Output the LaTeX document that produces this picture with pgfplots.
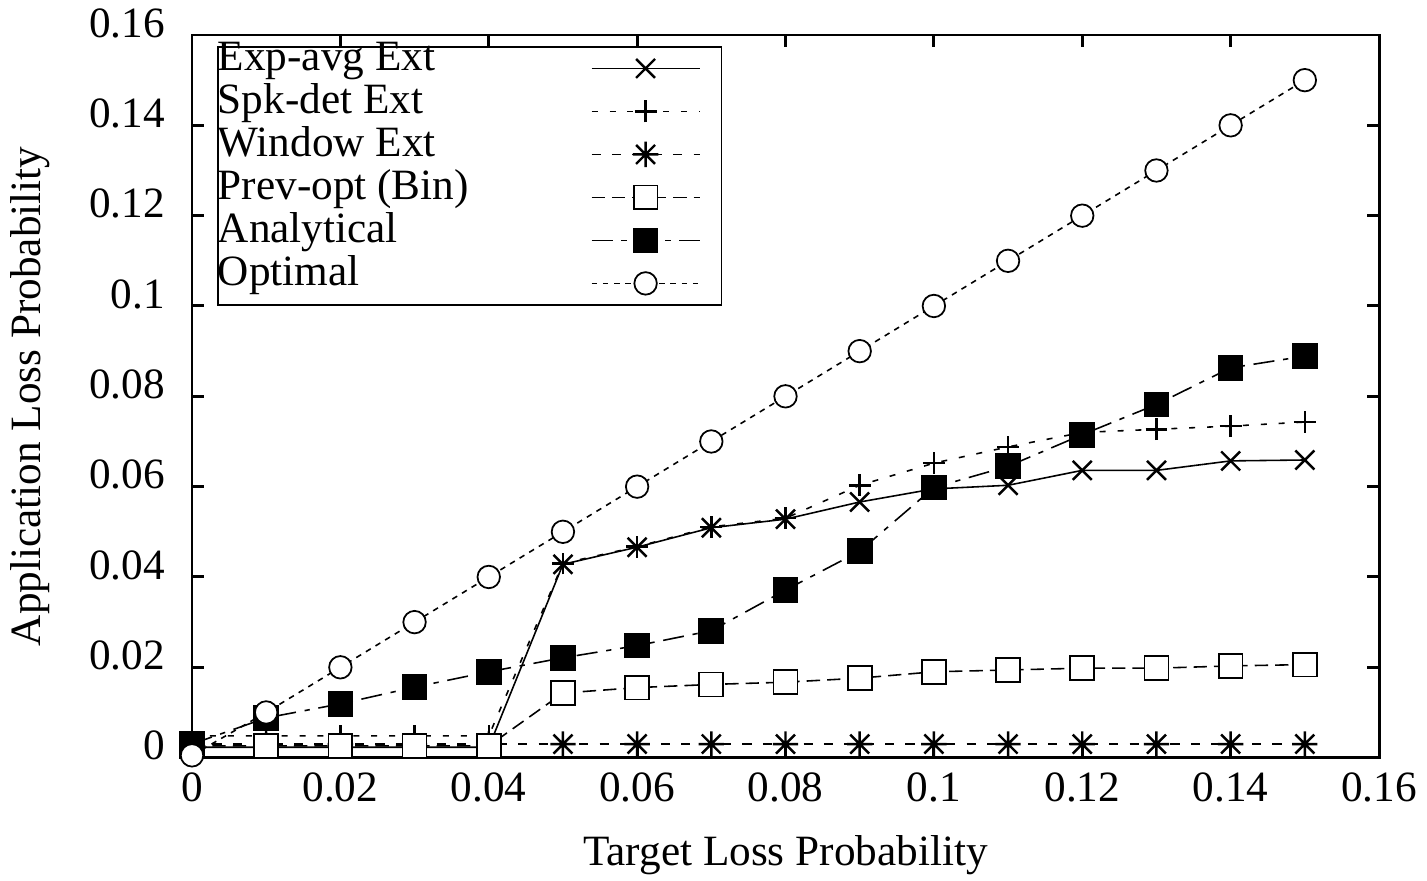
\documentclass[border=0pt]{standalone}
\usepackage{fontspec}
\setmainfont{Liberation Serif}
\usepackage{pgfplots}
\pgfplotsset{compat=1.18}
\usetikzlibrary{calc,plotmarks}

% gnuplot-like point types
\pgfdeclareplotmark{gpx}{%
  \pgfpathmoveto{\pgfqpoint{-\pgfplotmarksize}{-\pgfplotmarksize}}%
  \pgfpathlineto{\pgfqpoint{\pgfplotmarksize}{\pgfplotmarksize}}%
  \pgfpathmoveto{\pgfqpoint{-\pgfplotmarksize}{\pgfplotmarksize}}%
  \pgfpathlineto{\pgfqpoint{\pgfplotmarksize}{-\pgfplotmarksize}}%
  \pgfusepathqstroke}
\pgfdeclareplotmark{gpplus}{%
  \pgfpathmoveto{\pgfqpoint{-\pgfplotmarksize}{0pt}}%
  \pgfpathlineto{\pgfqpoint{\pgfplotmarksize}{0pt}}%
  \pgfpathmoveto{\pgfqpoint{0pt}{-\pgfplotmarksize}}%
  \pgfpathlineto{\pgfqpoint{0pt}{\pgfplotmarksize}}%
  \pgfusepathqstroke}
\pgfdeclareplotmark{gpstar}{%
  \pgfpathmoveto{\pgfqpoint{-\pgfplotmarksize}{0pt}}%
  \pgfpathlineto{\pgfqpoint{\pgfplotmarksize}{0pt}}%
  \pgfpathmoveto{\pgfqpoint{0pt}{-\pgfplotmarksize}}%
  \pgfpathlineto{\pgfqpoint{0pt}{\pgfplotmarksize}}%
  \pgfpathmoveto{\pgfqpoint{-0.75\pgfplotmarksize}{-0.75\pgfplotmarksize}}%
  \pgfpathlineto{\pgfqpoint{0.75\pgfplotmarksize}{0.75\pgfplotmarksize}}%
  \pgfpathmoveto{\pgfqpoint{-0.75\pgfplotmarksize}{0.75\pgfplotmarksize}}%
  \pgfpathlineto{\pgfqpoint{0.75\pgfplotmarksize}{-0.75\pgfplotmarksize}}%
  \pgfusepathqstroke}

\newcommand{\lt}[1]{\raisebox{0.06cm}{#1}}

\pgfplotstableread{
x     expavg  spkdet  window  prevopt analyt  optimal
0.00  0.0023  0.0048  0.0030  0.0026  0.0030  0.0005
0.01  0.0023  0.0048  0.0030  0.0026  0.0088  0.0100
0.02  0.0023  0.0048  0.0030  0.0026  0.0119  0.0200
0.03  0.0023  0.0048  0.0030  0.0026  0.0156  0.0300
0.04  0.0023  0.0048  0.0030  0.0026  0.0190  0.0400
0.05  0.0428  0.0430  0.0030  0.0143  0.0221  0.0500
0.06  0.0466  0.0467  0.0030  0.0155  0.0248  0.0600
0.07  0.0509  0.0511  0.0030  0.0162  0.0281  0.0700
0.08  0.0528  0.0530  0.0030  0.0167  0.0371  0.0800
0.09  0.0566  0.0603  0.0030  0.0176  0.0457  0.0900
0.10  0.0595  0.0652  0.0030  0.0190  0.0598  0.1000
0.11  0.0603  0.0688  0.0030  0.0194  0.0645  0.1100
0.12  0.0636  0.0720  0.0030  0.0198  0.0715  0.1200
0.13  0.0636  0.0727  0.0030  0.0198  0.0782  0.1300
0.14  0.0657  0.0734  0.0030  0.0203  0.0863  0.1400
0.15  0.0659  0.0743  0.0030  0.0206  0.0889  0.1500
}\losstable

\begin{document}
\begin{tikzpicture}
\fontsize{12.3pt}{14pt}\selectfont
\begin{axis}[
  scale only axis,
  width=11.87cm, height=7.226cm,
  xmin=0, xmax=0.16, ymin=0, ymax=0.16,
  xtick={0,0.02,...,0.161}, ytick={0,0.02,...,0.161},
  scaled ticks=false,
  /pgf/number format/assume math mode=true,
  xticklabel style={/pgf/number format/fixed, /pgf/number format/precision=2},
  yticklabel style={/pgf/number format/fixed, /pgf/number format/precision=2,
                    xshift=-0.12cm, yshift=0.12cm},
  tick label style={font=\fontsize{12.3pt}{14pt}\selectfont},
  label style={font=\fontsize{12.3pt}{14pt}\selectfont},
  tick align=inside,
  major tick length=0.12cm,
  tick style={black, line width=0.85pt},
  axis line style={black, line width=0.85pt},
  xlabel={Target Loss Probability},
  ylabel={Application Loss Probability},
  xlabel style={at={(axis description cs:0.5,-0.1348)}, anchor=center},
  ylabel style={at={(axis description cs:-0.1365,0.5)}, anchor=center},
  clip=false,
  legend plot pos=right,
  legend cell align=left,
  legend image code/.code={%
    \draw[mark repeat=2,mark phase=2,#1] plot coordinates {(0cm,0cm) (0.54cm,0cm) (1.08cm,0cm)};
    \path (1.29cm,0cm);},
  legend style={
    at={(axis description cs:0,1)}, anchor=north west,
    xshift=0.25cm, yshift=-0.11cm,
    draw=black, line width=0.5pt,
    inner xsep=0pt, inner ysep=0pt, row sep=0pt,
    font=\fontsize{12.3pt}{14pt}\selectfont,
    nodes={inner sep=0pt, text height=0.30cm, text depth=0.13cm},
    /tikz/every odd column/.append style={column sep=1.22cm},
  },
]
\addplot[black, line width=0.45pt, mark=gpx, mark size=2.7pt,
  mark options={solid, line width=0.7pt}]
  table[x=x, y=expavg] {\losstable};
\addlegendentry{\lt{Exp-avg Ext}}
\addplot[black, line width=0.45pt, dash pattern=on 1.7pt off 3.4pt,
  mark=gpplus, mark size=3.1pt, mark options={solid, line width=0.7pt}]
  table[x=x, y=spkdet] {\losstable};
\addlegendentry{\lt{Spk-det Ext}}
\addplot[black, line width=0.45pt, dash pattern=on 2.6pt off 3.2pt,
  mark=gpstar, mark size=3.6pt, mark options={solid, line width=0.7pt}]
  table[x=x, y=window] {\losstable};
\addlegendentry{\lt{Window Ext}}
\addplot[black, line width=0.45pt, dash pattern=on 3.8pt off 2pt,
  mark=square*, mark size=3.4pt, mark options={solid, fill=white, line width=0.5pt}]
  table[x=x, y=prevopt] {\losstable};
\addlegendentry{\lt{Prev-opt (Bin)}}
\addplot[black, line width=0.45pt, dash pattern=on 6pt off 2.5pt on 1.5pt off 2.5pt,
  mark=square*, mark size=3.4pt, mark options={solid, fill=black, line width=0.5pt}]
  table[x=x, y=analyt] {\losstable};
\addlegendentry{\lt{Analytical}}
\addplot[black, line width=0.45pt, dash pattern=on 1.6pt off 1.6pt,
  mark=*, mark size=3.2pt, mark options={solid, fill=white, line width=0.5pt}]
  table[x=x, y=optimal] {\losstable};
\addlegendentry{\lt{Optimal}}
\coordinate (sw) at (rel axis cs:0,0);
\coordinate (ne) at (rel axis cs:1,1);
\end{axis}
\pgfresetboundingbox
\path ($(sw)+(-1.92cm,-1.224cm)$) rectangle ($(ne)+(0.48cm,0.35cm)$);
\end{tikzpicture}
\end{document}
